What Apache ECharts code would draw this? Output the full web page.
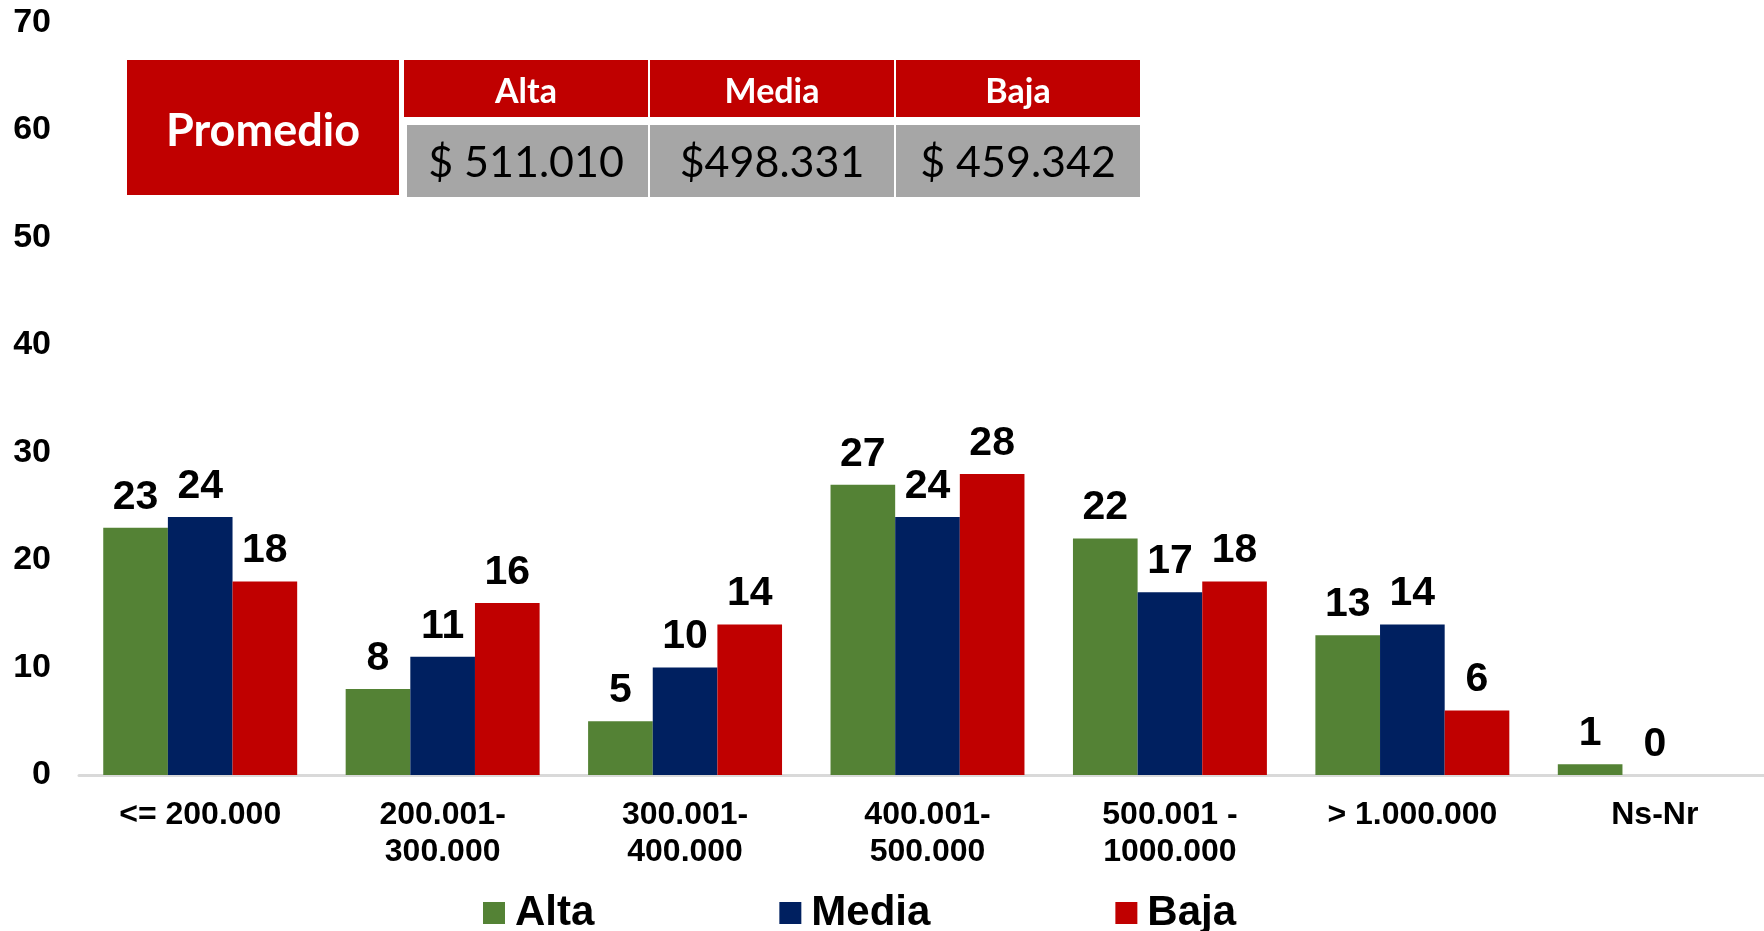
<!DOCTYPE html>
<html>
<head>
<meta charset="utf-8">
<script src="https://cdn.jsdelivr.net/npm/echarts@6/dist/echarts.min.js"></script>
<style>
html,body{margin:0;padding:0;background:#fff;overflow:hidden;width:1764px;height:931px;}
#c{width:1790px;height:931px;}
</style>
</head>
<body>
<div id="c"></div>
<script>
const categories = ['<= 200.000', '200.001-\n300.000', '300.001-\n400.000', '400.001-\n500.000', '500.001 -\n1000.000', '> 1.000.000', 'Ns-Nr'];
const alta = [23, 8, 5, 27, 22, 13, 1];
const media = [24, 11, 10, 24, 17, 14, 0];
const baja = [18, 16, 14, 28, 18, 6, null];
const yTicks = { min: 0, max: 70, interval: 10 };
const tableHeaders = ['Alta', 'Media', 'Baja'];
const tableValues = ['$ 511.010', '$498.331', '$ 459.342'];
const tableTitle = 'Promedio';

const FONT = '"Liberation Sans", Arial, sans-serif';
const TFONT = 'Lato, "Open Sans", sans-serif';
const colors = ['#548235', '#002060', '#C00000'];

const chart = echarts.init(document.getElementById('c'));

function mkSeries(name, data, color) {
  return {
    name: name, type: 'bar', data: data, barGap: '0%', barCategoryGap: '20%',
    itemStyle: { color: color },
    label: { show: true, position: 'top', distance: 10, color: '#000', fontFamily: FONT, fontWeight: 'bold', fontSize: 41 }
  };
}

// table graphics
const graphics = [];
graphics.push({ type: 'rect', shape: { x: 127, y: 60, width: 272, height: 135 }, style: { fill: '#C00000' } });
graphics.push({ type: 'text', style: { x: 263, y: 131, text: tableTitle, fill: '#fff', font: 'bold 45px ' + TFONT, textAlign: 'center', textVerticalAlign: 'middle' } });
const colX = [404, 650, 896];
const colW = 244;
for (let i = 0; i < 3; i++) {
  const x0 = colX[i];
  graphics.push({ type: 'rect', shape: { x: x0, y: 60, width: colW, height: 57 }, style: { fill: '#C00000' } });
  graphics.push({ type: 'text', style: { x: x0 + colW / 2, y: 92, text: tableHeaders[i], fill: '#fff', font: 'bold 34px ' + TFONT, textAlign: 'center', textVerticalAlign: 'middle' } });
  const gx = i === 0 ? 407 : colX[i];
  const gw = i === 0 ? colW - 3 : colW;
  graphics.push({ type: 'rect', shape: { x: gx, y: 125, width: gw, height: 72 }, style: { fill: '#A6A6A6' } });
  graphics.push({ type: 'text', style: { x: x0 + colW / 2, y: 163, text: tableValues[i], fill: '#000', font: '43px ' + TFONT, textAlign: 'center', textVerticalAlign: 'middle' } });
}

chart.setOption({
  animation: false,
  backgroundColor: '#fff',
  grid: { left: 79, top: 22.5, width: 1697, height: 752.5, containLabel: false },
  legend: {
    data: ['Alta', 'Media', 'Baja'],
    left: 483, top: 892, padding: 0,
    itemWidth: 22, itemHeight: 22, itemGap: 185,
    icon: 'rect',
    textStyle: { color: '#000', fontFamily: FONT, fontWeight: 'bold', fontSize: 42, padding: [0, 0, 0, 5] }
  },
  xAxis: {
    type: 'category', data: categories,
    axisLine: { show: true, lineStyle: { color: '#D9D9D9', width: 3 } },
    axisTick: { show: false },
    axisLabel: { color: '#000', fontFamily: FONT, fontWeight: 'bold', fontSize: 32, lineHeight: 37, margin: 22, interval: 0 }
  },
  yAxis: {
    type: 'value', min: yTicks.min, max: yTicks.max, interval: yTicks.interval,
    axisLine: { show: false }, axisTick: { show: false }, splitLine: { show: false },
    axisLabel: { color: '#000', fontFamily: FONT, fontWeight: 'bold', fontSize: 34, margin: 28 }
  },
  series: [mkSeries('Alta', alta, colors[0]), mkSeries('Media', media, colors[1]), mkSeries('Baja', baja, colors[2])],
  graphic: graphics
});
</script>
</body>
</html>
